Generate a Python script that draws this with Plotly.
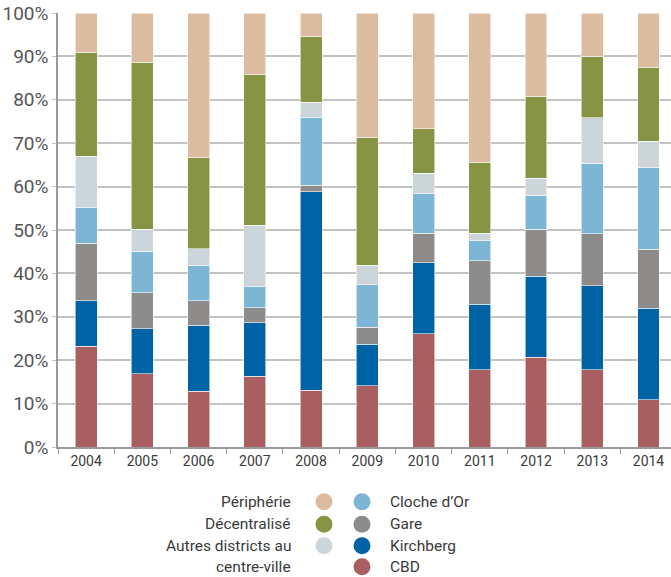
import plotly.graph_objects as go

# Office take-up share by district, per year (percent of total)
years = ["2004", "2005", "2006", "2007", "2008", "2009", "2010", "2011", "2012", "2013", "2014"]
cbd = [23.2, 16.9, 12.8, 16.3, 13.1, 14.1, 26.1, 17.8, 20.7, 17.8, 10.9]
kirchberg = [10.5, 10.4, 15.2, 12.3, 45.7, 9.6, 16.4, 15.1, 18.7, 19.3, 21.1]
gare = [13.2, 8.3, 5.7, 3.5, 1.5, 3.9, 6.7, 10.0, 10.8, 12.0, 13.6]
cloche_dor = [8.3, 9.5, 8.2, 4.8, 15.7, 9.8, 9.1, 4.7, 7.8, 16.3, 18.7]
autres = [11.8, 5.1, 3.8, 14.2, 3.4, 4.5, 4.8, 1.6, 3.9, 10.5, 6.1]
decentralise = [24.0, 38.4, 20.9, 34.8, 15.3, 29.5, 10.2, 16.4, 18.9, 14.1, 17.1]
peripherie = [9.0, 11.4, 33.4, 14.1, 5.3, 28.6, 26.7, 34.4, 19.2, 10.0, 12.5]

y_ticks = [0, 10, 20, 30, 40, 50, 60, 70, 80, 90, 100]

series = [
    ("CBD", cbd, "#A95F5F"),
    ("Kirchberg", kirchberg, "#0063A6"),
    ("Gare", gare, "#8D8C8A"),
    ("Cloche d’Or", cloche_dor, "#7DB6D4"),
    ("Autres districts au centre-ville", autres, "#CCD5D9"),
    ("Décentralisé", decentralise, "#869444"),
    ("Périphérie", peripherie, "#DCBCA1"),
]
colors = {name: c for name, _, c in series}

fig = go.Figure()
for name, vals, col in series:
    fig.add_bar(
        x=years, y=vals, name=name, width=0.39,
        marker=dict(color=col, line=dict(color="rgba(255,255,255,0.7)", width=0.8)),
        showlegend=False,
    )

W, H = 671, 577
ML, MR, MT, MB = 58, 0, 13, 130
PW, PH = W - ML - MR, H - MT - MB

def px_x(px):
    return (px - ML) / PW

def px_y(py):
    return (H - MB - py) / PH

fig.update_layout(
    width=W, height=H,
    margin=dict(l=ML, r=MR, t=MT, b=MB, pad=0),
    barmode="stack",
    plot_bgcolor="white", paper_bgcolor="white",
    font=dict(family="Roboto", color="#4a4a4a"),
    xaxis=dict(
        range=[-0.5, 10.4], showgrid=False,
        showline=True, linecolor="#9a9a9a", linewidth=1.5,
        ticks="outside", tickson="boundaries", ticklen=5, tickcolor="#9a9a9a",
        tickfont=dict(size=14, color="#3a3a3a"),
    ),
    yaxis=dict(
        range=[0, 100], tickvals=y_ticks, ticktext=[f"{v}%" for v in y_ticks],
        showgrid=True, gridcolor="#c2c2c2", gridwidth=1.5,
        showline=True, linecolor="#9a9a9a", linewidth=1.5,
        ticks="outside", ticklen=4, tickcolor="#c2c2c2",
        tickfont=dict(size=19, color="#555555"), zeroline=False,
    ),
)

# Custom two-column legend below the chart
rows_py = [501.7, 524.3, 545.7, 566.7]
left_items = [("Périphérie", 0), ("Décentralisé", 1), ("Autres districts au centre-ville", 2)]
right_items = [("Cloche d’Or", 0), ("Gare", 1), ("Kirchberg", 2), ("CBD", 3)]
left_label_x, left_dot_x, right_dot_x, right_label_x = 293, 324, 362, 388
dot_d = 17

def add_dot(cx, cy, col):
    fig.add_shape(
        type="circle", xref="paper", yref="paper",
        xsizemode="pixel", ysizemode="pixel",
        xanchor=px_x(cx), yanchor=px_y(cy),
        x0=-dot_d / 2, x1=dot_d / 2, y0=-dot_d / 2, y1=dot_d / 2,
        fillcolor=col, line=dict(width=0),
    )

label_font = dict(size=15.5, color="#3a3a3a", family="Roboto")
for name, r in left_items:
    add_dot(left_dot_x, rows_py[r], colors[name])
    lines = ["Autres districts au", "centre-ville"] if name.startswith("Autres") else [name]
    for i, line in enumerate(lines):
        fig.add_annotation(
            x=px_x(left_label_x), y=px_y(rows_py[r + i]), xref="paper", yref="paper",
            text=line, showarrow=False, xanchor="right", yanchor="middle", font=label_font,
        )
for name, r in right_items:
    add_dot(right_dot_x, rows_py[r], colors[name])
    fig.add_annotation(
        x=px_x(right_label_x), y=px_y(rows_py[r]), xref="paper", yref="paper",
        text=name, showarrow=False, xanchor="left", yanchor="middle", font=label_font,
    )

fig.write_html("out.html")
